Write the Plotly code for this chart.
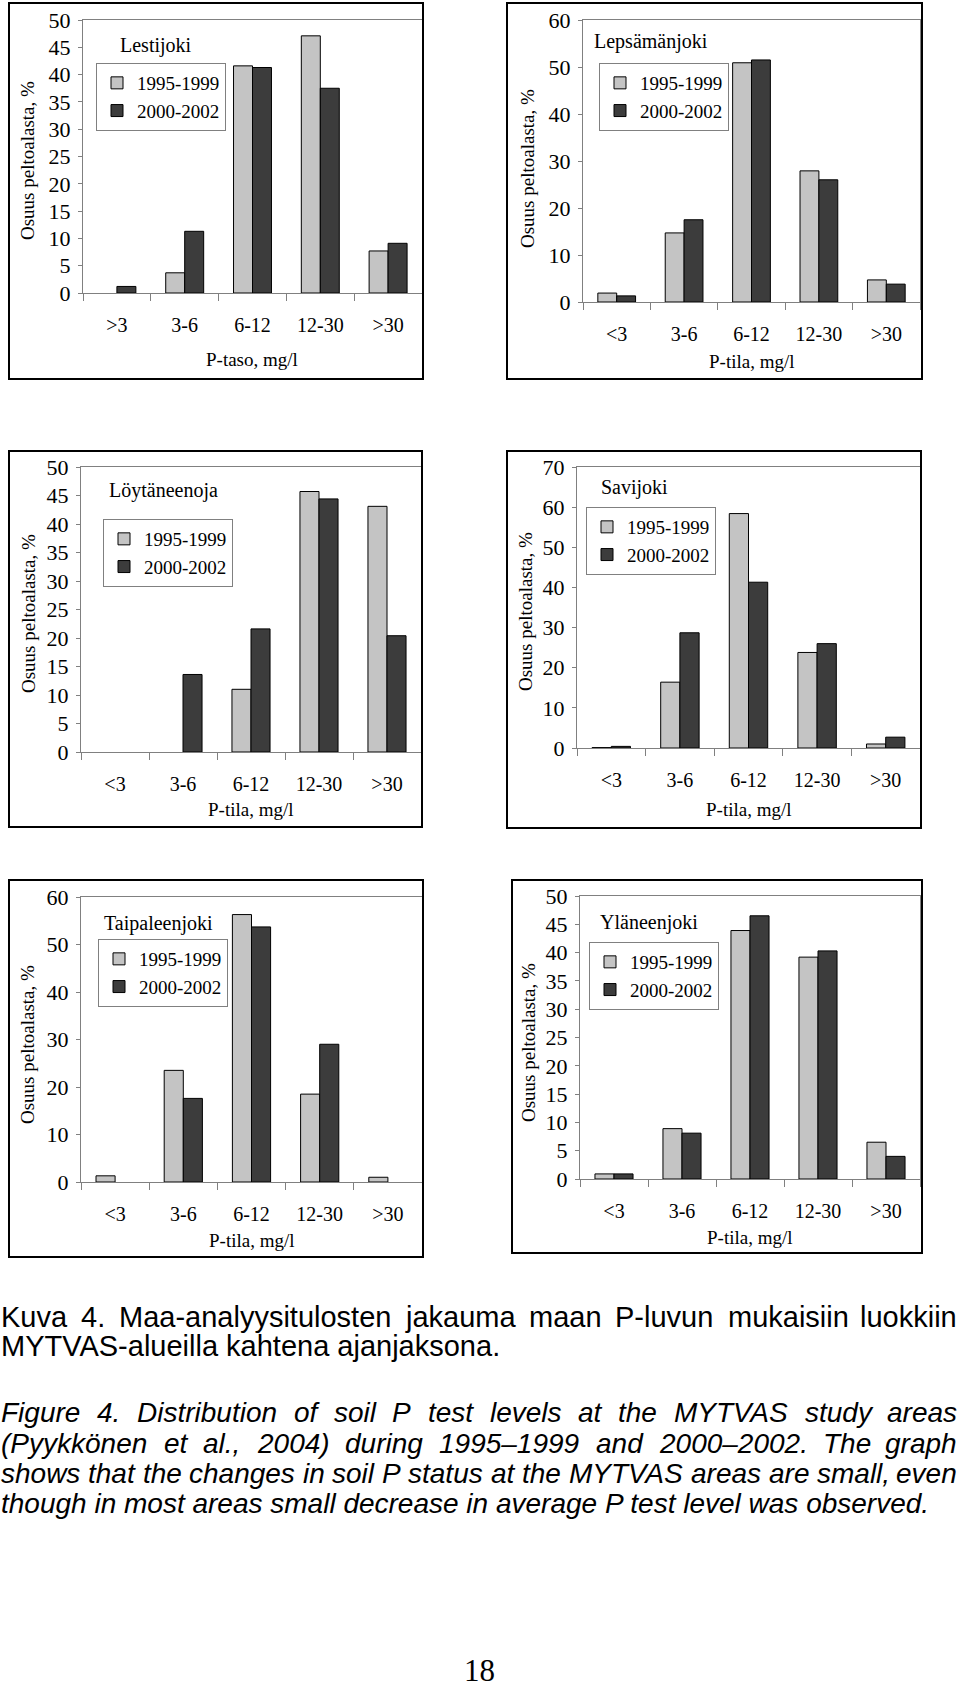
import plotly.graph_objects as go

W, H = 960, 1689

# ---------------- data ----------------
categories_std = ["<3", "3-6", "6-12", "12-30", ">30"]
categories_lesti = [">3", "3-6", "6-12", "12-30", ">30"]
series_names = ["1995-1999", "2000-2002"]

lestijoki_1995 = [0, 3.7, 41.6, 47.1, 7.7]
lestijoki_2000 = [1.2, 11.3, 41.3, 37.5, 9.1]
lepsamanjoki_1995 = [1.9, 14.7, 50.9, 27.9, 4.7]
lepsamanjoki_2000 = [1.3, 17.5, 51.5, 26.0, 3.8]
loytaneenoja_1995 = [0, 0, 11.0, 45.7, 43.1]
loytaneenoja_2000 = [0, 13.6, 21.6, 44.4, 20.4]
savijoki_1995 = [0.1, 16.4, 58.4, 23.8, 1.0]
savijoki_2000 = [0.4, 28.7, 41.3, 26.0, 2.7]
taipaleenjoki_1995 = [1.3, 23.5, 56.3, 18.5, 1.0]
taipaleenjoki_2000 = [0, 17.6, 53.7, 29.0, 0]
ylaneenjoki_1995 = [0.9, 8.9, 43.9, 39.2, 6.5]
ylaneenjoki_2000 = [0.9, 8.1, 46.5, 40.3, 4.0]

y_title = "Osuus peltoalasta, %"

caption_fi = [
    "Kuva 4. Maa-analyysitulosten jakauma maan P-luvun mukaisiin luokkiin",
    "MYTVAS-alueilla kahtena ajanjaksona.",
]
caption_en = [
    "Figure 4. Distribution of soil P test levels at the MYTVAS study areas",
    "(Pyykkönen et al., 2004) during 1995\u20131999 and 2000\u20132002. The graph",
    "shows that the changes in soil P status at the MYTVAS areas are small, even",
    "though in most areas small decrease in average P test level was observed.",
]
page_number = "18"

# ---------------- layout config ----------------
SERIF = "Liberation Serif, Times New Roman, serif"
SANS = "Liberation Sans, Arial, sans-serif"
LIGHT = "#c4c4c4"
DARK = "#3c3c3c"
GRAY = "#808080"

panels = [
    dict(name="Lestijoki", cats=categories_lesti, a=lestijoki_1995, b=lestijoki_2000, ymax=50, dtick=5,
         plot=(83, 422, 20, 293), box=(9, 423, 3, 379), legend=(96, 63), title=(118, 45),
         xtitle="P-taso, mg/l", xtitle_y=360, ytitle=(27, 161)),
    dict(name="Lepsämänjoki", cats=categories_std, a=lepsamanjoki_1995, b=lepsamanjoki_2000, ymax=60, dtick=10,
         plot=(583, 920, 20, 302), box=(507, 922, 3, 379), legend=(599, 63), title=(592, 42),
         xtitle="P-tila, mg/l", xtitle_y=362, ytitle=(528, 169)),
    dict(name="Löytäneenoja", cats=categories_std, a=loytaneenoja_1995, b=loytaneenoja_2000, ymax=50, dtick=5,
         plot=(81, 421, 467, 752), box=(9, 422, 451, 827), legend=(103, 519), title=(107, 490),
         xtitle="P-tila, mg/l", xtitle_y=810, ytitle=(28, 614)),
    dict(name="Savijoki", cats=categories_std, a=savijoki_1995, b=savijoki_2000, ymax=70, dtick=10,
         plot=(577, 920, 467, 748), box=(507, 921, 451, 828), legend=(586, 507), title=(599, 488),
         xtitle="P-tila, mg/l", xtitle_y=810, ytitle=(525, 612)),
    dict(name="Taipaleenjoki", cats=categories_std, a=taipaleenjoki_1995, b=taipaleenjoki_2000, ymax=60, dtick=10,
         plot=(81, 422, 897, 1182), box=(9, 423, 880, 1257), legend=(98, 939), title=(102, 923),
         xtitle="P-tila, mg/l", xtitle_y=1240, ytitle=(27, 1045)),
    dict(name="Yläneenjoki", cats=categories_std, a=ylaneenjoki_1995, b=ylaneenjoki_2000, ymax=50, dtick=5,
         plot=(580, 920, 896, 1179), box=(512, 922, 880, 1253), legend=(589, 942), title=(598, 922),
         xtitle="P-tila, mg/l", xtitle_y=1237, ytitle=(528, 1043)),
]


def px_x(v):
    return v / W


def px_y(v):
    return 1 - v / H


fig = go.Figure()
layout = dict(
    width=W, height=H, margin=dict(l=0, r=0, t=0, b=0, pad=0, autoexpand=False),
    paper_bgcolor="white", plot_bgcolor="white",
    barmode="group", bargap=0.44, bargroupgap=0,
    showlegend=True,
    font=dict(family=SERIF, size=19, color="black"),
)
shapes = []
annotations = []

for i, p in enumerate(panels, start=1):
    sfx = "" if i == 1 else str(i)
    xa, ya = "x" + sfx, "y" + sfx
    leg = "legend" + sfx
    for vals, nm, col in ((p["a"], series_names[0], LIGHT), (p["b"], series_names[1], DARK)):
        # zero shares are simply not drawn (no flat outline), as in the original
        shown = [v if v != 0 else None for v in vals]
        fig.add_trace(go.Bar(
            x=p["cats"], y=shown, name=nm, xaxis=xa, yaxis=ya, legend=leg,
            marker=dict(color=col, line=dict(color="black", width=1)),
            hovertemplate="%{x}: %{y}%<extra>" + nm + "</extra>",
        ))
    x0, x1, ytop, yzero = p["plot"]
    layout["xaxis" + sfx] = dict(
        domain=[px_x(x0), px_x(x1)], anchor=ya, type="category",
        categoryorder="array", categoryarray=p["cats"],
        ticks="outside", tickson="boundaries", ticklen=7, tickcolor=GRAY,
        showline=True, linecolor=GRAY, linewidth=1, mirror=True, showgrid=False,
        tickfont=dict(family=SERIF, size=20, color="black"), ticklabelstandoff=14,
        automargin=False,
    )
    layout["yaxis" + sfx] = dict(
        domain=[px_y(yzero), px_y(ytop)], anchor=xa, range=[0, p["ymax"]], dtick=p["dtick"],
        ticks="outside", ticklen=4, tickcolor=GRAY,
        showline=True, linecolor=GRAY, linewidth=1, mirror=True, showgrid=False, zeroline=False,
        tickfont=dict(family=SERIF, size=22, color="black"), ticklabelstandoff=3,
        automargin=False,
    )
    lx, ly = p["legend"]
    layout[leg] = dict(
        x=px_x(lx), y=px_y(ly), xanchor="left", yanchor="top",
        bgcolor="white", bordercolor=GRAY, borderwidth=1,
        font=dict(family=SERIF, size=19, color="black"), tracegroupgap=0,
    )
    bx0, bx1, by0, by1 = p["box"]
    shapes.append(dict(type="rect", xref="paper", yref="paper",
                       x0=px_x(bx0), x1=px_x(bx1), y0=px_y(by1), y1=px_y(by0),
                       line=dict(color="black", width=2), fillcolor="rgba(0,0,0,0)"))
    tx, ty = p["title"]
    annotations.append(dict(text=p["name"], xref="paper", yref="paper", x=px_x(tx), y=px_y(ty),
                            xanchor="left", yanchor="middle", showarrow=False,
                            font=dict(family=SERIF, size=20, color="black")))
    annotations.append(dict(text=p["xtitle"], xref="paper", yref="paper",
                            x=px_x((x0 + x1) / 2), y=px_y(p["xtitle_y"]),
                            xanchor="center", yanchor="middle", showarrow=False,
                            font=dict(family=SERIF, size=19, color="black")))
    yx, yy = p["ytitle"]
    annotations.append(dict(text=y_title, xref="paper", yref="paper", x=px_x(yx), y=px_y(yy),
                            xanchor="center", yanchor="middle", showarrow=False, textangle=-90,
                            font=dict(family=SERIF, size=19, color="black")))

# ---------------- caption (justified with Arial metrics) ----------------
AW = {" ": 278, "(": 333, ")": 333, ",": 278, "-": 333, ".": 278, "\u2013": 556,
      "A": 667, "D": 722, "F": 611, "K": 667, "M": 833, "P": 667, "S": 667, "T": 611,
      "V": 667, "Y": 667, "a": 556, "b": 556, "c": 500, "d": 556, "e": 556, "f": 278,
      "g": 556, "h": 556, "i": 222, "j": 222, "k": 500, "l": 222, "m": 833, "n": 556,
      "o": 556, "p": 556, "r": 333, "s": 500, "t": 278, "u": 556, "v": 500, "w": 722,
      "y": 500, "ö": 556, "ä": 556}
for d in "0123456789":
    AW[d] = 556

CAP_LEFT, CAP_RIGHT = 0, 958


def tw(s, size):
    return sum(AW.get(c, 556) for c in s) / 1000 * size


def cap_ann(text, x, yc, anchor, size, italic):
    return dict(text=("<i>%s</i>" % text) if italic else text, xref="paper", yref="paper",
                x=px_x(x), y=px_y(yc), xanchor=anchor, yanchor="middle",
                showarrow=False, borderpad=0,
                font=dict(family=SANS, size=size, color="black"))


def add_line(text, yc, justify, italic, size):
    if not justify:
        annotations.append(cap_ann(text, CAP_LEFT, yc, "left", size, italic))
        return
    words = text.split(" ")
    total = sum(tw(w, size) for w in words)
    gap = (CAP_RIGHT - CAP_LEFT - total) / (len(words) - 1)
    x = CAP_LEFT
    for k, w in enumerate(words):
        if k == len(words) - 1:
            annotations.append(cap_ann(w, CAP_RIGHT, yc, "right", size, italic))
        else:
            annotations.append(cap_ann(w, x, yc, "left", size, italic))
        x += tw(w, size) + gap


fi_y = [1317, 1346]
en_y = [1412, 1443, 1473, 1503]
for k, line in enumerate(caption_fi):
    add_line(line, fi_y[k], justify=(k < len(caption_fi) - 1), italic=False, size=29)
for k, line in enumerate(caption_en):
    add_line(line, en_y[k], justify=(k < len(caption_en) - 1), italic=True, size=28)

annotations.append(dict(text=page_number, xref="paper", yref="paper", x=px_x(479), y=px_y(1670),
                        xanchor="center", yanchor="middle", showarrow=False,
                        font=dict(family=SERIF, size=31, color="black")))

layout["shapes"] = shapes
layout["annotations"] = annotations
fig.update_layout(**layout)
fig.write_html("out.html", config={"displayModeBar": False},
               post_script="document.body.style.margin='0';")
